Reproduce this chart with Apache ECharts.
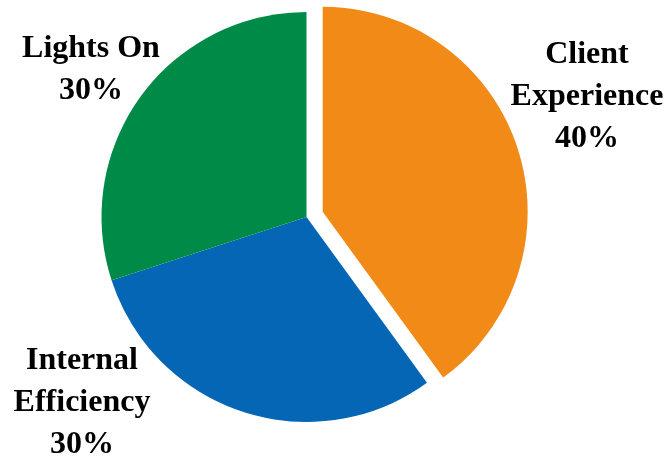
<!DOCTYPE html>
<html>
<head>
<meta charset="utf-8">
<script src="https://cdn.jsdelivr.net/npm/echarts@6/dist/echarts.min.js"></script>
<style>
  html, body { margin: 0; padding: 0; background: #fff; }
  #chart { width: 668px; height: 460px; }
</style>
</head>
<body>
<div id="chart"></div>
<script>
const categories = ['Client Experience', 'Internal Efficiency', 'Lights On']
const labelText = ['Client\nExperience', 'Internal\nEfficiency', 'Lights On']
const shares = [40, 30, 30]
const colors = ['#F28A17', '#0466B5', '#008A48']
const exploded = 'Client Experience'

// where Excel put each label (centre of the text block)
const labelSpots = [[587, 97], [82, 403], [91, 70]]

const CX = 306.5
const CY = 217
const R = 205
const PULL = 17

// push the exploded slice out along its middle angle
const total = shares.reduce((a, b) => a + b, 0)
const idx = categories.indexOf(exploded)
const before = shares.slice(0, idx).reduce((a, b) => a + b, 0)
const mid = (before + shares[idx] / 2) / total * Math.PI * 2
const pullX = Math.sin(mid) * PULL
const pullY = -Math.cos(mid) * PULL

const chart = echarts.init(document.getElementById('chart'), null, { renderer: 'canvas' })

const baseSeries = {
  type: 'pie',
  radius: R,
  startAngle: 90,
  clockwise: true,
  avoidLabelOverlap: false,
  emphasis: { disabled: true },
  labelLine: { show: false }
}

chart.setOption({
  animation: false,
  series: [
    Object.assign({}, baseSeries, {
      center: [CX, CY],
      label: {
        show: true,
        position: 'outside',
        overflow: 'none',
        fontFamily: 'Liberation Serif',
        fontWeight: 'bold',
        fontSize: 32,
        lineHeight: 42,
        color: '#000',
        formatter: p => labelText[p.dataIndex] + '\n' + p.value + '%'
      },
      labelLayout: p => ({
        x: labelSpots[p.dataIndex][0],
        y: labelSpots[p.dataIndex][1],
        align: 'center',
        verticalAlign: 'middle'
      }),
      data: categories.map((name, i) => ({
        name: name,
        value: shares[i],
        itemStyle: { color: name === exploded ? 'rgba(0,0,0,0)' : colors[i] }
      }))
    }),
    Object.assign({}, baseSeries, {
      center: [CX + pullX, CY + pullY],
      label: { show: false },
      data: categories.map((name, i) => ({
        name: name,
        value: shares[i],
        itemStyle: { color: name === exploded ? colors[i] : 'rgba(0,0,0,0)' }
      }))
    })
  ]
})
</script>
</body>
</html>
